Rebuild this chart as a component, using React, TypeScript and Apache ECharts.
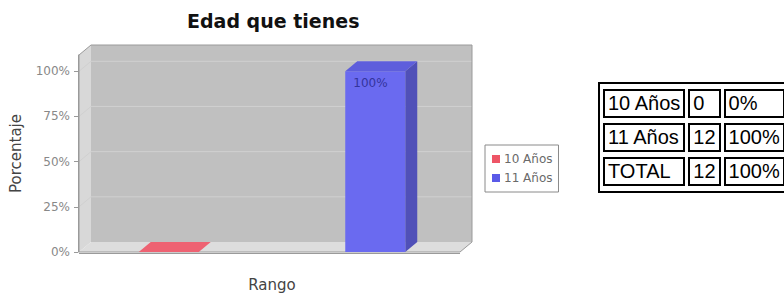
import React, { useEffect, useRef } from "react";
import * as echarts from "echarts";

// ---- data ----
const ranges = ["10 Años", "11 Años"];
const counts = [0, 12];
const percents = [0, 100];
const totalLabel = "TOTAL";
const totalCount = 12;
const totalPercent = 100;
const yTicks = [0, 25, 50, 75, 100];
const chartTitle = "Edad que tienes";
const yName = "Porcentaje";
const xName = "Rango";

// ---- styles / layout ----
const DX = 12;
const DY = 10;
const FX0 = 79;
const FX1 = 460;
const BAR_W = 60;
const FONT = "DejaVu Sans, Tahoma, sans-serif";
const barStyles = [
  { legend: "#ee5566", front: "#f26a78", top: "#ee6272", side: "#c85060" },
  { legend: "#5a5ae8", front: "#6a6af0", top: "#5e5edc", side: "#5050b8" },
];

function wallsRender(params: any, api: any) {
  const cs = params.coordSys;
  const yb = api.coord([0, 0])[1];
  const yt = cs.y;
  const children: any[] = [];
  children.push({
    type: "rect",
    shape: { x: FX0 + DX, y: yt - DY, width: FX1 - FX0, height: yb - yt },
    style: { fill: "#c0c0c0" },
  });
  children.push({
    type: "polygon",
    shape: { points: [[FX0, yt], [FX0 + DX, yt - DY], [FX0 + DX, yb - DY], [FX0, yb]] },
    style: { fill: "#d8d8d8" },
  });
  children.push({
    type: "polygon",
    shape: { points: [[FX0, yb], [FX0 + DX, yb - DY], [FX1 + DX, yb - DY], [FX1, yb]] },
    style: { fill: "#dddddd" },
  });
  yTicks.forEach((v) => {
    if (v === 0) return;
    const y = api.coord([0, v])[1];
    children.push({
      type: "polyline",
      shape: { points: [[FX0, y], [FX0 + DX, y - DY], [FX1 + DX, y - DY]] },
      style: { stroke: "#d0d0d0", lineWidth: 1, fill: null },
    });
  });
  children.push({
    type: "polygon",
    shape: {
      points: [[FX0, yb], [FX0, yt], [FX0 + DX, yt - DY], [FX1 + DX, yt - DY], [FX1 + DX, yb - DY], [FX1, yb]],
    },
    style: { fill: null, stroke: "#9a9a9a", lineWidth: 1 },
  });
  children.push({
    type: "line",
    shape: { x1: FX0, y1: yb + 1.5, x2: FX1, y2: yb + 1.5 },
    style: { stroke: "#9a9a9a", lineWidth: 1 },
  });
  return { type: "group", children };
}

function makeBarRender(idx: number) {
  return (params: any, api: any) => {
    const st = barStyles[idx];
    const v = api.value(1);
    const [cx, yTop] = api.coord([api.value(0), v]);
    const yBase = api.coord([api.value(0), 0])[1];
    const x0 = cx - BAR_W / 2;
    const x1 = cx + BAR_W / 2;
    const children: any[] = [
      {
        type: "polygon",
        shape: { points: [[x1, yTop], [x1 + DX, yTop - DY], [x1 + DX, yBase - DY], [x1, yBase]] },
        style: { fill: st.side },
      },
      {
        type: "rect",
        shape: { x: x0, y: yTop, width: BAR_W, height: yBase - yTop },
        style: { fill: st.front },
      },
      {
        type: "polygon",
        shape: { points: [[x0, yTop], [x0 + DX, yTop - DY], [x1 + DX, yTop - DY], [x1, yTop]] },
        style: { fill: st.top },
      },
    ];
    if (v > 0) {
      children.push({
        type: "text",
        style: {
          x: x0 + 8,
          y: yTop + 6,
          text: v + "%",
          fill: "#34349c",
          font: "12px " + FONT,
          textVerticalAlign: "top",
        },
      });
    }
    return { type: "group", children };
  };
}

export default function App() {
  const ref = useRef<HTMLDivElement>(null);

  useEffect(() => {
    if (!ref.current) return;
    const chart = echarts.init(ref.current, undefined, { renderer: "svg" });
    const series: any[] = [
      {
        type: "custom",
        name: "walls",
        z: 1,
        silent: true,
        data: [[0, 0]],
        renderItem: wallsRender,
      },
    ];
    ranges.forEach((r, i) => {
      series.push({
        type: "custom",
        name: r,
        z: 3,
        itemStyle: { color: barStyles[i].legend },
        data: [[i, percents[i]]],
        renderItem: makeBarRender(i),
      });
    });
    chart.setOption({
      animation: false,
      title: {
        text: chartTitle,
        left: 187,
        top: 11,
        padding: 0,
        textStyle: { fontFamily: FONT, fontSize: 19, fontWeight: "bold", color: "#111" },
      },
      legend: {
        data: ranges,
        orient: "vertical",
        left: 485,
        top: 145,
        icon: "rect",
        itemWidth: 8,
        itemHeight: 8,
        itemGap: 7,
        padding: [8, 6, 8, 7],
        borderColor: "#8a8a8a",
        borderWidth: 1,
        backgroundColor: "#fff",
        textStyle: { fontFamily: FONT, fontSize: 12, color: "#6a6a6a", padding: [0, 0, 0, -1] },
      },
      grid: { left: 64.5, width: 414, top: 55, bottom: 40, containLabel: false },
      xAxis: {
        type: "category",
        data: ranges,
        name: xName,
        nameLocation: "middle",
        nameGap: 25,
        nameTextStyle: { fontFamily: FONT, fontSize: 15, color: "#444" },
        axisLine: { show: false },
        axisTick: { show: false },
        axisLabel: { show: false },
        splitLine: { show: false },
      },
      yAxis: {
        type: "value",
        min: 0,
        max: 109,
        interval: 25,
        offset: -12.5,
        name: yName,
        nameLocation: "middle",
        nameGap: 55,
        nameTextStyle: { fontFamily: FONT, fontSize: 15, color: "#444" },
        axisLine: { show: true, lineStyle: { color: "#999" } },
        axisTick: { show: true, length: 4, lineStyle: { color: "#999" }, customValues: yTicks },
        axisLabel: {
          customValues: yTicks,
          margin: 8,
          fontFamily: FONT,
          fontSize: 12,
          color: "#888",
          formatter: (v: number) => v + "%",
        },
        splitLine: { show: false },
      },
      series,
    });
    return () => chart.dispose();
  }, []);

  const rows = ranges.map((r, i) => [r, String(counts[i]), percents[i] + "%"]);
  rows.push([totalLabel, String(totalCount), totalPercent + "%"]);

  const cellStyle: React.CSSProperties = {
    border: "2px solid #000",
    padding: "0 3px",
    lineHeight: "25px",
    whiteSpace: "nowrap",
    textAlign: "left",
  };

  return (
    <div style={{ position: "fixed", left: 0, top: 0, width: 784, height: 297, overflow: "hidden", background: "#fff" }}>
      <div ref={ref} style={{ position: "absolute", left: 0, top: 0, width: 784, height: 297 }} />
      <table
        style={{
          position: "absolute",
          left: 598,
          top: 82,
          borderCollapse: "separate",
          borderSpacing: "3px 5px",
          border: "2px solid #000",
          fontFamily: "'Liberation Sans', Arial, sans-serif",
          fontSize: 20,
          color: "#000",
        }}
      >
        <tbody>
          {rows.map((row, ri) => (
            <tr key={ri}>
              {row.map((c, ci) => (
                <td key={ci} style={cellStyle}>
                  {c}
                </td>
              ))}
            </tr>
          ))}
        </tbody>
      </table>
    </div>
  );
}
